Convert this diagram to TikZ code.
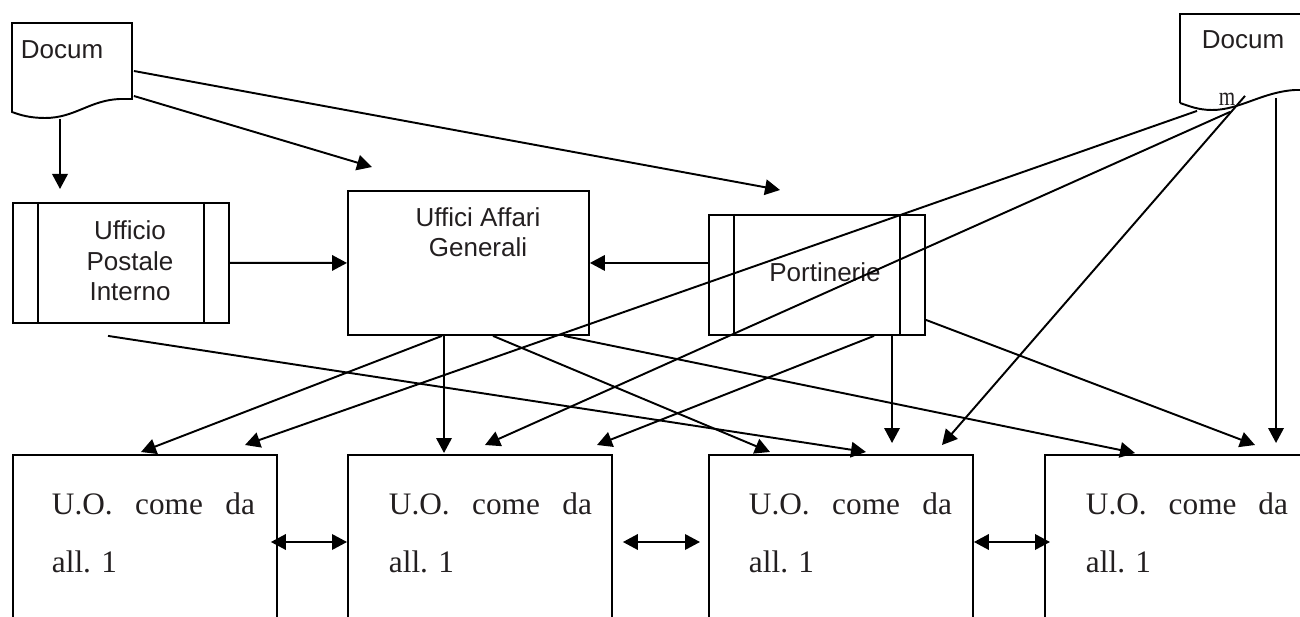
\documentclass[tikz,border=0pt]{standalone}
\usepackage{fontspec}
\setmainfont{Liberation Serif}
\setsansfont{Liberation Sans}
\usetikzlibrary{arrows.meta,calc}
\definecolor{ink}{HTML}{231F20}
\begin{document}
\begin{tikzpicture}[x=0.02cm,y=-0.02cm, line width=1.1pt,
  arr/.style={-{Triangle[length=0.3cm,width=0.31cm]}},
  biarr/.style={{Triangle[length=0.3cm,width=0.31cm]}-{Triangle[length=0.3cm,width=0.31cm]}},
  box/.style={draw, rectangle, inner sep=0pt, anchor=north west},
  ghost/.style={rectangle, inner sep=0pt, anchor=north west},
  lab/.style={font=\sffamily\fontsize{14.8pt}{17.4pt}\selectfont, text=ink, align=center, inner sep=0pt},
  uo/.style={font=\rmfamily\fontsize{17.8pt}{20pt}\selectfont, text=ink, anchor=base west, inner sep=0pt}]
\useasboundingbox (0,0) rectangle (1300,617);
\clip (0,0) rectangle (1300,617);

% documents
\node[ghost, minimum width=2.4cm, minimum height=1.78cm] (doc1) at (12,23) {};
\draw (12,23) -- (132,23) -- (132,99) -- (120,99) .. controls (90,100) and (75,118) .. (45,118) .. controls (30,118) and (20,115) .. (12,112) -- cycle;
\node[lab] (d1t) at (62,50) {Docum};

\node[ghost, minimum width=2.6cm, minimum height=1.78cm] (doc2) at (1180,14) {};
\draw (1180,103) -- (1180,14) -- (1310,14) -- (1310,90) -- (1295,90) .. controls (1262,92) and (1240,110) .. (1212,110) .. controls (1198,110) and (1189,106) .. (1180,103);
\node[lab] (d2t) at (1243,40) {Docum};
\node[text=ink, inner sep=0pt] (mm) at (1227,99) {\scalebox{0.8}[1]{\rmfamily\fontsize{15pt}{15pt}\selectfont m}};

% offices
\node[box, minimum width=4.32cm, minimum height=2.4cm] (upi) at (12,202) {};
\draw ($(upi.north west)+(26,0)$) -- ($(upi.south west)+(26,0)$);
\draw ($(upi.north east)+(-26,0)$) -- ($(upi.south east)+(-26,0)$);
\node[lab] (upit) at (130,261) {Ufficio\\Postale\\Interno};

\node[box, minimum width=4.82cm, minimum height=2.88cm] (uag) at (347,190) {};
\node[lab] (uagt) at (478,232) {Uffici Affari\\Generali};

\node[box, minimum width=4.32cm, minimum height=2.4cm] (port) at (708,214) {};
\draw ($(port.north west)+(26,0)$) -- ($(port.south west)+(26,0)$);
\draw ($(port.north east)+(-26,0)$) -- ($(port.south east)+(-26,0)$);
\node[lab] (portt) at (825,272) {Portinerie};

% bottom units
\node[box, minimum width=5.28cm, minimum height=3.8cm] (b1) at (12,454) {};
\node[box, minimum width=5.28cm, minimum height=3.8cm] (b2) at (347,454) {};
\node[box, minimum width=5.28cm, minimum height=3.8cm] (b3) at (708,454) {};
\node[box, minimum width=5.4cm, minimum height=3.8cm] (b4) at (1044,454) {};
\node[uo] (t1a) at (51,514) {\makebox[4.06cm][s]{U.O. come da}};
\node[uo] (t1b) at (51,572) {all. 1};
\node[uo] (t2a) at (388,514) {\makebox[4.06cm][s]{U.O. come da}};
\node[uo] (t2b) at (388,572) {all. 1};
\node[uo] (t3a) at (748,514) {\makebox[4.06cm][s]{U.O. come da}};
\node[uo] (t3b) at (748,572) {all. 1};
\node[uo] (t4a) at (1085,514) {\makebox[4.04cm][s]{U.O. come da}};
\node[uo] (t4b) at (1085,572) {all. 1};

% connectors from doc1
\draw[arr] ($(doc1.south west)+(48,5)$) -- ($(upi.north west)+(48,-13)$);
\draw[arr] ($(doc1.north east)+(0,73)$) -- ($(uag.north west)+(25,-23)$);
\draw[arr] ($(doc1.north east)+(0,48)$) -- ($(port.north west)+(72,-24)$);

% between offices
\draw[arr] (upi.east) -- (uag.west);
\draw[arr] (uag.east -| port.west) -- (uag.east);

% to the units
\draw[arr] ($(upi.south west)+(96,12)$) -- ($(b3.north west)+(158,-2)$);
\draw[arr] ($(uag.south west)+(95,0)$) -- ($(b1.north west)+(129,-2)$);
\draw[arr] ($(uag.south west)+(97,0)$) -- ($(b2.north west)+(97,-1)$);
\draw[arr] ($(uag.south west)+(146,0)$) -- ($(b3.north west)+(62,-2)$);
\draw[arr] ($(uag.south west)+(217,0)$) -- ($(b4.north west)+(91,-1)$);
\draw[arr] ($(port.south west)+(166,0)$) -- ($(b2.north west)+(250,-9)$);
\draw[arr] ($(port.south west)+(184,0)$) -- ($(b3.north west)+(184,-11)$);
\draw[arr] ($(port.south east)+(0,-16)$) -- ($(b4.north west)+(211,-9)$);
\draw[arr] ($(doc2.south west)+(17,6)$) -- ($(b1.north west)+(233,-9)$);
\draw[arr] ($(doc2.south west)+(50,7)$) -- ($(b2.north west)+(138,-9)$);
\draw[arr] ($(doc2.south west)+(65,-9)$) -- ($(b3.north west)+(234,-9)$);
\draw[arr] ($(doc2.south west)+(96,-7)$) -- ($(b4.north west)+(232,-11)$);

% between units
\draw[biarr] ($(b1.north east)+(-7,88)$) -- ($(b2.north west)+(0,88)$);
\draw[biarr] ($(b2.north east)+(10,88)$) -- ($(b3.north west)+(-8,88)$);
\draw[biarr] ($(b3.north east)+(0,88)$) -- ($(b4.north west)+(6,88)$);
\end{tikzpicture}
\end{document}
